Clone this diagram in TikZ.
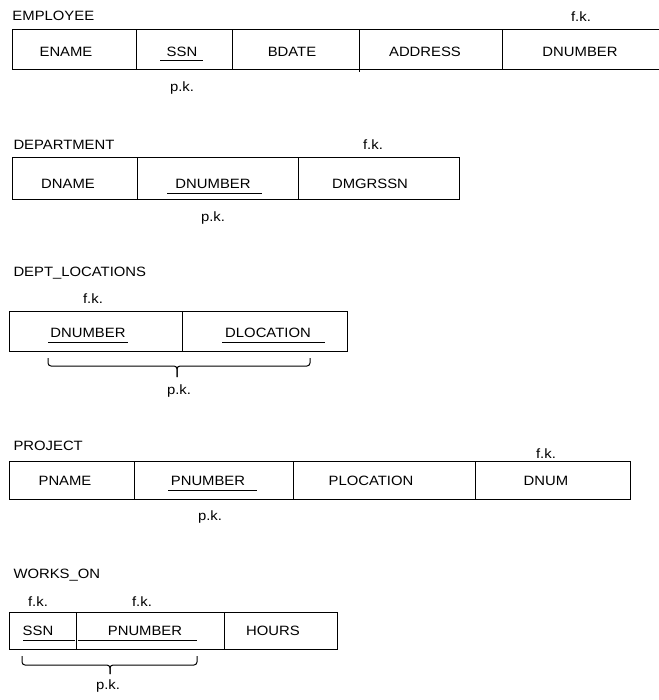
\documentclass[tikz,border=0pt]{standalone}
\usepackage{fontspec}
\setmainfont{Liberation Sans}[FakeStretch=1.1]

\begin{document}
\begin{tikzpicture}[x=1pt,y=-1pt,line width=1pt]
        \tikzstyle{every node}+=[inner sep=0pt,font=\fontsize{13.5}{15}\selectfont]
        \tikzstyle{pkbrace}=[black,rounded corners=3pt]
        \useasboundingbox (0,0) rectangle (658,700);
        % EMPLOYEE
        \node [anchor=west] (employee) at (12,16) {EMPLOYEE};
        \draw [black] (12,30) rectangle (662,70);
        \draw [black] (136,30) -- (136,70);
        \draw [black] (232,30) -- (232,70);
        \draw [black] (359,30) -- (359,72);
        \draw [black] (502,30) -- (502,70);
        \node (ename) at (66,52) {ENAME};
        \node (ssn) at (182,52) {SSN};
        \draw [black] (160,61) -- (203,61);
        \node (bdate) at (292,52) {BDATE};
        \node (address) at (425,52) {ADDRESS};
        \node (dnumber) at (580,52) {DNUMBER};
        \node (empfk) at (581,17) {f.k.};
        \node (emppk) at (182,88) {p.k.};
        % DEPARTMENT
        \node [anchor=west] (department) at (13,145) {DEPARTMENT};
        \draw [black] (12,158) rectangle (459,200);
        \draw [black] (137,158) -- (137,200);
        \draw [black] (298,158) -- (298,200);
        \node (dname) at (68,184) {DNAME};
        \node (ddnumber) at (213,184) {DNUMBER};
        \draw [black] (167,194) -- (262,194);
        \node (dmgrssn) at (370,184) {DMGRSSN};
        \node (depfk) at (373,145) {f.k.};
        \node (deppk) at (213,218) {p.k.};
        % DEPT_LOCATIONS
        \node [anchor=west] (deptloc) at (13,273) {DEPT\_LOCATIONS};
        \node (locfk) at (93,299) {f.k.};
        \draw [black] (9,311) rectangle (347,351);
        \draw [black] (182,311) -- (182,351);
        \node (ldnumber) at (88,333) {DNUMBER};
        \node (dlocation) at (268,333) {DLOCATION};
        \draw [black] (48,342) -- (128,342);
        \draw [black] (222,342) -- (325,342);
        \draw [pkbrace] (48,358) -- (48,366) -- (177,366) -- (177,377);
        \draw [pkbrace] (177,377) -- (177,366) -- (310,366) -- (310,358);
        \node (locpk) at (179,391) {p.k.};
        % PROJECT
        \node [anchor=west] (project) at (13,446) {PROJECT};
        \draw [black] (9,461) rectangle (630,499);
        \draw [black] (134,461) -- (134,499);
        \draw [black] (293,461) -- (293,499);
        \draw [black] (475,461) -- (475,499);
        \node (pname) at (65,481) {PNAME};
        \node (pnumber) at (208,481) {PNUMBER};
        \draw [black] (168,490) -- (257,490);
        \node (plocation) at (371,481) {PLOCATION};
        \node (dnum) at (546,481) {DNUM};
        \node (projfk) at (546,454) {f.k.};
        \node (projpk) at (210,517) {p.k.};
        % WORKS_ON
        \node [anchor=west] (workson) at (13,575) {WORKS\_ON};
        \node (wssnfk) at (38,602) {f.k.};
        \node (wpnofk) at (142,602) {f.k.};
        \draw [black] (9,612) rectangle (337,649);
        \draw [black] (76,612) -- (76,649);
        \draw [black] (224,612) -- (224,649);
        \node (wssn) at (38,631) {SSN};
        \node (wpnumber) at (145,631) {PNUMBER};
        \node (hours) at (273,631) {HOURS};
        \draw [black] (23,640) -- (75,640);
        \draw [black] (78,640) -- (197,640);
        \draw [pkbrace] (22,656) -- (22,665) -- (110,665) -- (110,674);
        \draw [pkbrace] (110,674) -- (110,665) -- (197,665) -- (197,656);
        \node (workpk) at (108,686) {p.k.};
\end{tikzpicture}
\end{document}
